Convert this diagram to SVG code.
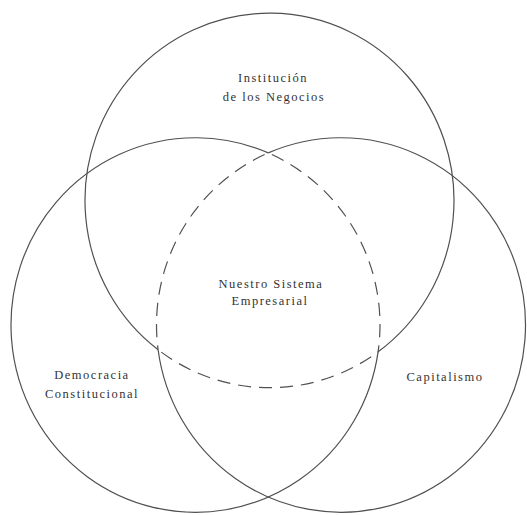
<svg xmlns="http://www.w3.org/2000/svg" width="527" height="515" viewBox="0 0 527 515">
  <style>
    .ring { fill: none; stroke: #505050; stroke-width: 1.2; }
    .core { fill: none; stroke: #505050; stroke-width: 1.2; stroke-dasharray: 13 8; stroke-dashoffset: -4; }
    .label { font-family: "Liberation Serif", "Times New Roman", serif; font-size: 12.5px; letter-spacing: 1.5px; fill: #333333; text-anchor: middle; }
  </style>
  <rect width="527" height="515" fill="#ffffff"/>

  <!-- Circles share a slight vertical stretch; arcs are drawn in the stretched space -->
  <g id="institucion">
    <path class="ring" transform="scale(1,1.015)" d="M158.12,344.59 A184.5,184.5 0 1 1 378.09,346.65"/>
    <text class="label" x="273" y="82">Institución</text>
    <text class="label" x="274" y="101">de los Negocios</text>
  </g>

  <g id="democracia">
    <path class="ring" transform="scale(1,1.015)" d="M268.25,150.65 A184.5,184.5 0 1 0 378.09,346.65"/>
    <text class="label" x="92" y="379">Democracia</text>
    <text class="label" x="92" y="398">Constitucional</text>
  </g>

  <g id="capitalismo">
    <path class="ring" transform="scale(1,1.015)" d="M268.25,150.65 A184.5,184.5 0 1 1 158.12,344.59"/>
    <text class="label" x="445" y="381">Capitalismo</text>
  </g>

  <!-- Shared core: the region inside all three circles, bounded by dashed arcs -->
  <g id="sistema">
    <g transform="scale(1,1.015)">
      <path class="core" d="M268.25,150.65 A184.5,184.5 0 0 0 158.12,344.59"/>
      <path class="core" d="M268.25,150.65 A184.5,184.5 0 0 1 378.09,346.65"/>
      <path class="core" d="M158.12,344.59 A184.5,184.5 0 0 0 378.09,346.65"/>
    </g>
    <text class="label" x="271" y="288">Nuestro Sistema</text>
    <text class="label" x="270" y="305">Empresarial</text>
  </g>
</svg>
